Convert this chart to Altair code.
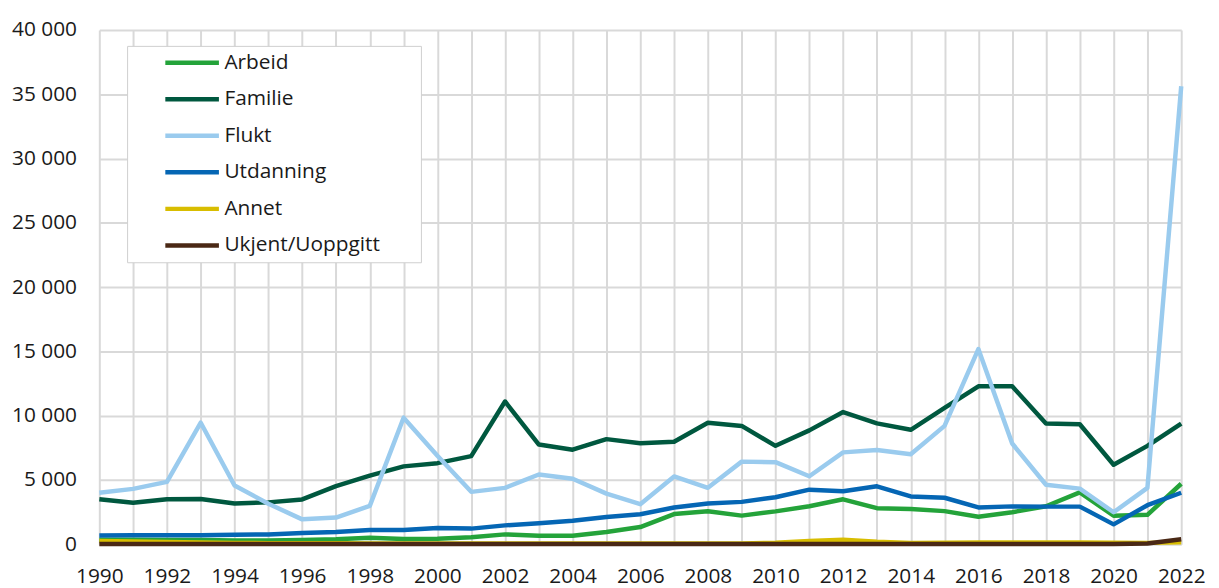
import altair as alt
import pandas as pd

years = list(range(1990, 2023))

series_names = ["Arbeid", "Familie", "Flukt", "Utdanning", "Annet", "Ukjent/Uoppgitt"]
series_colors = ["#24A33A", "#00583F", "#9ACBEE", "#0566B4", "#D8BD00", "#4A2815"]

arbeid = [350, 350, 330, 320, 290, 280, 330, 380, 500, 400, 420, 540, 760, 660, 660, 950, 1330,
          2340, 2560, 2220, 2550, 2950, 3490, 2800, 2740, 2570, 2130, 2480, 2950, 4030, 2210, 2280, 4700]
familie = [3500, 3220, 3500, 3520, 3170, 3250, 3480, 4520, 5330, 6050, 6300, 6850, 11100, 7750, 7350,
           8170, 7850, 7970, 9450, 9200, 7650, 8850, 10280, 9400, 8900, 10600, 12280, 12280, 9380,
           9330, 6180, 7650, 9380]
flukt = [4000, 4300, 4850, 9450, 4560, 3150, 1930, 2070, 2980, 9840, 6880, 4070, 4380, 5420, 5090,
         3930, 3110, 5270, 4380, 6420, 6380, 5280, 7140, 7330, 6990, 9200, 15180, 7830, 4620, 4320,
         2480, 4380, 35620]
utdanning = [680, 690, 690, 700, 740, 750, 860, 950, 1100, 1100, 1260, 1210, 1460, 1630, 1820, 2120,
             2330, 2850, 3160, 3290, 3650, 4240, 4110, 4500, 3710, 3610, 2860, 2940, 2920, 2920,
             1540, 3030, 4000]
annet = [250, 200, 170, 140, 100, 80, 80, 70, 60, 60, 50, 50, 50, 50, 50, 50, 50, 50, 50, 60,
         120, 250, 350, 180, 100, 110, 140, 140, 140, 140, 120, 100, 150]
ukjent = [20, 20, 20, 20, 20, 20, 20, 20, 20, 20, 20, 20, 20, 20, 20, 20, 20, 20, 20, 20,
          20, 20, 20, 20, 20, 20, 20, 20, 20, 20, 20, 50, 380]

y_ticks = [0, 5000, 10000, 15000, 20000, 25000, 30000, 35000, 40000]

rows = []
for name, vals in zip(series_names, [arbeid, familie, flukt, utdanning, annet, ukjent]):
    for yr, v in zip(years, vals):
        rows.append({"År": yr, "Antall": v, "Grunn": name, "ord": series_names.index(name)})
df = pd.DataFrame(rows)

FONT = "Open Sans"
TXT = "#1a1a1a"
GRID = "#D9D9D9"
FS = 21

chart = alt.Chart(df).mark_line(strokeWidth=4.5, strokeJoin="round").encode(
    x=alt.X("År:Q",
            scale=alt.Scale(domain=[1990, 2022], nice=False, zero=False),
            axis=alt.Axis(values=years, title=None, domain=False, ticks=False,
                          labelExpr="datum.value % 2 == 0 ? '' + datum.value : ''",
                          labelPadding=22, labelFontSize=FS, labelFont=FONT, labelColor=TXT,
                          grid=True, gridColor=GRID, gridWidth=2, labelFlush=False,
                          labelOverlap=False)),
    y=alt.Y("Antall:Q",
            scale=alt.Scale(domain=[0, 40000], nice=False),
            axis=alt.Axis(values=y_ticks, title=None, domain=False, ticks=False,
                          labelExpr="replace(format(datum.value, ','), ',', ' ')",
                          labelPadding=23, labelFontSize=FS, labelFont=FONT, labelColor=TXT,
                          grid=True, gridColor=GRID, gridWidth=2, labelFlush=False)),
    color=alt.Color("Grunn:N",
                    scale=alt.Scale(domain=series_names, range=series_colors),
                    legend=alt.Legend(
                        orient="none", legendX=28, legendY=16,
                        title="xxx", titleOrient="right",
                        titlePadding=2, titleFontSize=19, titleColor="transparent",
                        symbolType="stroke", symbolSize=2916, symbolStrokeWidth=4.5,
                        symbolOffset=29, labelOffset=3, clipHeight=20, rowPadding=15.8,
                        padding=7, labelFontSize=FS, labelFont=FONT, labelColor=TXT,
                        fillColor="white", strokeColor="#CFCFCF")),
    order=alt.Order("ord:Q"),
    detail="Grunn:N",
).properties(
    width=1090, height=518,
    autosize=alt.AutoSizeParams(type="none"),
    padding={"left": 92, "top": 20, "right": 30, "bottom": 42},
).configure_view(stroke=None)

chart.save("out.html", embed_options={"renderer": "svg", "actions": False})
